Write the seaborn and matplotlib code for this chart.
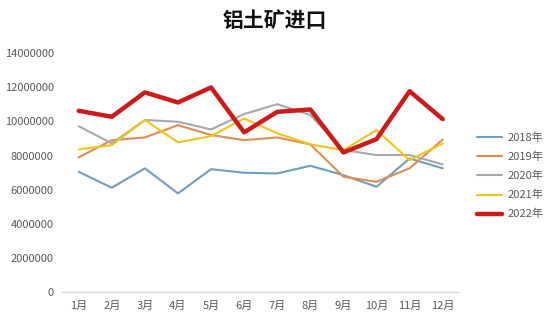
import matplotlib
matplotlib.use("Agg")
import matplotlib.pyplot as plt
import seaborn as sns
import pandas as pd

months = ["1月", "2月", "3月", "4月", "5月", "6月", "7月", "8月", "9月", "10月", "11月", "12月"]
years = ["2018年", "2019年", "2020年", "2021年", "2022年"]
v2018 = [7050000, 6110000, 7250000, 5780000, 7200000, 6990000, 6950000, 7400000, 6850000, 6170000, 7830000, 7250000]
v2019 = [7890000, 8900000, 9060000, 9780000, 9200000, 8900000, 9060000, 8650000, 6760000, 6460000, 7250000, 8940000]
v2020 = [9720000, 8710000, 10080000, 9980000, 9530000, 10430000, 11010000, 10370000, 8320000, 8030000, 8030000, 7480000]
v2021 = [8360000, 8610000, 10080000, 8770000, 9140000, 10170000, 9300000, 8650000, 8320000, 9490000, 7730000, 8710000]
v2022 = [10620000, 10270000, 11700000, 11110000, 11990000, 9360000, 10560000, 10700000, 8180000, 8960000, 11770000, 10130000]
yticks = [0, 2000000, 4000000, 6000000, 8000000, 10000000, 12000000, 14000000]

colors = ["#6d9fc2", "#dc8e55", "#a8a8a8", "#f3c21c", "#cc1b1b"]
widths = [1.5, 1.5, 1.5, 1.5, 3.2]

sns.set_theme(style="white")
plt.rcParams['font.family'] = ['Noto Sans CJK SC', 'DejaVu Sans']

df = pd.DataFrame({
    "month": months * 5,
    "x": list(range(12)) * 5,
    "value": v2018 + v2019 + v2020 + v2021 + v2022,
    "year": [y for y in years for _ in months],
})

fig = plt.figure(figsize=(5.5, 3.22), dpi=100)
ax = fig.add_axes([0.113, 0.093, 0.722, 0.742])
for yr, c, w in zip(years, colors, widths):
    sub = df[df["year"] == yr]
    sns.lineplot(data=sub, x="x", y="value", color=c, linewidth=w, ax=ax, label=yr)

ax.set_xlim(-0.5, 11.5)
ax.set_ylim(0, 14000000)
ax.set_xticks(range(12))
ax.set_xticklabels(months, fontsize=8, color="#595959")
ax.set_yticks(yticks)
ax.set_yticklabels([str(t) for t in yticks], fontsize=8, color="#595959")
ax.set_xlabel("")
ax.set_ylabel("")
for s in ["top", "right", "left"]:
    ax.spines[s].set_visible(False)
ax.spines["bottom"].set_color("#d9d9d9")
ax.spines["bottom"].set_linewidth(1)
ax.tick_params(axis="both", length=0, pad=6)

leg = ax.legend(loc="center left", bbox_to_anchor=(1.02, 0.485), frameon=False,
                fontsize=8, handlelength=2.2, labelspacing=0.78, handletextpad=0.5)
for t in leg.get_texts():
    t.set_color("#595959")

fig.text(0.5, 0.935, "铝土矿进口", ha="center", va="center", fontsize=15, fontweight="bold", color="#111111")
fig.savefig("out.png", dpi=100, facecolor="white")
